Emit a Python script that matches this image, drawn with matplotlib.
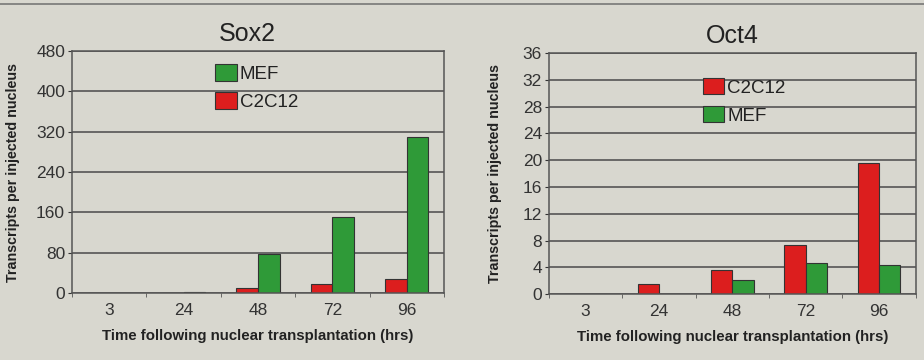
import matplotlib
matplotlib.use("Agg")
import matplotlib.pyplot as plt
import numpy as np

plt.rcParams['font.family'] = ['Liberation Sans', 'DejaVu Sans']

hours = ["3", "24", "48", "72", "96"]

sox2_c2c12 = [0, 1, 10, 18.5, 28]
sox2_mef = [0, 3, 78, 151, 309]

oct4_c2c12 = [0, 1.5, 3.6, 7.4, 19.5]
oct4_mef = [0, 0, 2.1, 4.6, 4.4]

bg = "#d8d7cf"
red = "#dc1e1e"
green = "#2f9a38"
edge = "#333333"

fig = plt.figure(figsize=(9.24, 3.6), dpi=100, facecolor=bg)

ax1 = fig.add_axes([0.0779, 0.186, 0.4026, 0.672])
ax2 = fig.add_axes([0.594, 0.183, 0.397, 0.670])

x = np.arange(len(hours))
w = 0.29


def style(ax, ymax, step, title, title_x, ylab_x):
    ax.set_facecolor(bg)
    ax.set_xlim(-0.5, len(hours) - 0.5)
    ax.set_ylim(0, ymax)
    ax.set_yticks(np.arange(0, ymax + step / 2, step))
    ax.set_xticks(x)
    ax.set_xticklabels(hours)
    ax.set_xticks(np.arange(-0.5, len(hours), 1), minor=True)
    ax.tick_params(axis='x', which='major', length=0, labelsize=12.5, colors="#333333", pad=7)
    ax.tick_params(axis='x', which='minor', length=3, color="#555555")
    ax.tick_params(axis='y', length=3, labelsize=12.5, colors="#333333", pad=2)
    ax.yaxis.grid(True, color="#4a4a4a", linewidth=1.1)
    ax.set_axisbelow(True)
    for s in ax.spines.values():
        s.set_color("#555555")
        s.set_linewidth(1.1)
    ax.set_title(title, fontsize=18, color="#222222", pad=7, x=title_x)
    ax.set_xlabel("Time following nuclear transplantation (hrs)", fontsize=10.8,
                  fontweight='bold', color="#222222", labelpad=8)
    ax.set_ylabel("Transcripts per injected nucleus", fontsize=10.3,
                  fontweight='bold', color="#222222")
    ax.yaxis.set_label_coords(ylab_x, 0.5)


def legend(ax, handles, labels, anchor):
    leg = ax.legend(handles, labels, loc='upper left', bbox_to_anchor=anchor,
                    frameon=False, fontsize=13.5,
                    handlelength=1.15, handleheight=0.95, handletextpad=0.15,
                    labelspacing=0.5, borderaxespad=0, borderpad=0)
    for t in leg.get_texts():
        t.set_color("#222222")
    return leg


# Sox2 panel
style(ax1, 480, 80, "Sox2", 0.47, -0.14)
b1 = ax1.bar(x - w / 2, sox2_c2c12, w, color=red, edgecolor=edge, linewidth=0.8)
b2 = ax1.bar(x + w / 2, sox2_mef, w, color=green, edgecolor=edge, linewidth=0.8)
legend(ax1, [b2, b1], ["MEF", "C2C12"], (0.385, 0.945))

# Oct4 panel
style(ax2, 36, 4, "Oct4", 0.5, -0.128)
c1 = ax2.bar(x - w / 2, oct4_c2c12, w, color=red, edgecolor=edge, linewidth=0.8)
c2 = ax2.bar(x + w / 2, oct4_mef, w, color=green, edgecolor=edge, linewidth=0.8)
legend(ax2, [c1, c2], ["C2C12", "MEF"], (0.42, 0.895))

# frame line along the top of the slide
fig.add_artist(plt.Line2D([0, 1], [0.99, 0.99], color="#777777", linewidth=1.2,
                          transform=fig.transFigure))

fig.savefig("out.png", dpi=100, facecolor=bg)
